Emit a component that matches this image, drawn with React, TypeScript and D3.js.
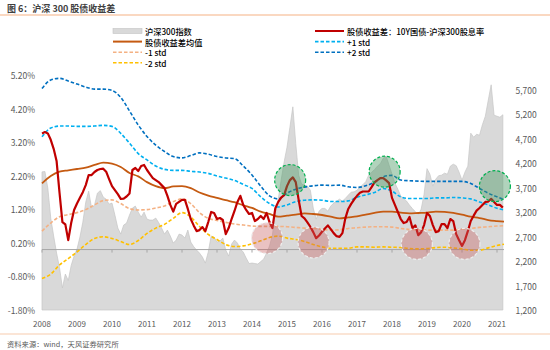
import * as d3 from 'd3';

// monthly, Jan 2008 .. Mar 2021 (positions follow the picture's time axis)
const yieldGap = [
  3.46, 3.50, 3.46, 3.27, 3.00, 2.64, 1.70, 0.82, 0.75, 0.28, 0.79, 1.18,
  1.37, 1.54, 1.71, 1.92, 2.22, 2.22, 2.31, 2.37, 2.40, 2.41, 2.32, 2.10,
  1.89, 1.77, 1.65, 1.51, 1.52, 1.58, 1.67, 2.37, 2.43, 2.34, 2.49, 2.52,
  2.37, 2.25, 2.13, 2.07, 2.01, 1.92, 1.83, 1.60, 1.33, 1.13, 1.36, 1.42,
  1.48, 1.48, 1.21, 0.91, 0.72, 0.55, 0.58, 0.67, 0.55, 0.82, 1.12, 1.09,
  0.91, 0.94, 0.88, 0.46, 0.64, 0.91, 1.15, 1.42, 1.60, 1.33, 1.18, 1.06,
  1.09, 0.85, 0.91, 1.00, 0.91, 1.09, 0.82, 0.64, 1.23, 1.42, 1.55, 1.62,
  1.89, 2.07, 2.15, 2.01, 1.48, 1.00, 0.93, 0.81, 0.68, 0.52, 0.34, 0.42,
  0.53, 0.63, 0.72, 0.61, 0.49, 0.40, 0.38, 0.49, 0.93, 1.21, 1.36, 1.49,
  1.60, 1.69, 1.73, 1.73, 1.73, 1.86, 2.00, 2.07, 2.13, 2.13, 2.06, 1.98,
  1.54, 1.33, 1.12, 0.91, 0.79, 0.82, 0.97, 0.64, 0.72, 0.43, 0.52, 0.73,
  1.09, 1.00, 0.73, 0.52, 0.55, 0.76, 0.76, 0.64, 0.91, 0.85, 0.46, 0.28,
  0.11, 0.28, 0.55, 0.85, 1.01, 1.16, 1.24, 1.33, 1.42, 1.43, 1.51, 1.42,
  1.33, 1.33, 1.25,
];

const csi300 = [
  4021, 4030, 3689, 3077, 2710, 2363, 2067, 1650, 1934, 1802, 2108, 2302,
  2444, 2689, 2995, 3403, 3628, 3281, 3342, 3587, 3638, 3505, 3464, 3362,
  3383, 3138, 2873, 2750, 2934, 2975, 3138, 3281, 3322, 3199, 3097, 3199,
  3056, 3036, 3036, 3077, 2985, 2873, 2750, 2832, 2710, 2567, 2628, 2750,
  2730, 2669, 2832, 2587, 2495, 2424, 2363, 2281, 2159, 2383, 2710, 2689,
  2587, 2608, 2669, 2424, 2302, 2546, 2628, 2567, 2444, 2383, 2261, 2149,
  2159, 2149, 2138, 2189, 2240, 2363, 2506, 2730, 3199, 3464, 3852, 4219,
  4525, 4933, 5350, 4600, 3954, 3770, 3750, 3730, 3648, 3281, 3056, 3220,
  3275, 3275, 3220, 3322, 3383, 3424, 3464, 3424, 3479, 3546, 3607, 3613,
  3648, 3709, 3760, 3821, 3954, 4015, 4066, 4138, 4189, 4301, 4342, 4158,
  3974, 3791, 3668, 3526, 3479, 3424, 3342, 3271, 3209, 3148, 3260, 3566,
  4087, 3974, 3730, 3872, 3944, 3954, 3995, 3974, 4138, 4178, 4148, 4015,
  3852, 4015, 4138, 4811, 4729, 4790, 4770, 4984, 5158, 5484, 5800, 5178,
  5158, 5137, 5188,
];

// quarterly, 2008.00 .. 2021.00 plus the last point
const gapMean = [
  1.97, 2.19, 2.32, 2.36, 2.40, 2.44, 2.52, 2.59, 2.56, 2.46,
  2.28, 2.18, 2.01, 1.89, 1.83, 1.88, 1.89, 1.83, 1.70, 1.61,
  1.54, 1.47, 1.41, 1.32, 1.24, 1.13, 1.06, 0.98, 1.01, 1.04,
  1.08, 1.06, 1.03, 0.98, 0.93, 0.96, 0.99, 1.04, 1.09, 1.13,
  1.13, 1.10, 1.08, 1.09, 1.10, 1.13, 1.12, 1.09, 1.04, 0.98,
  0.94, 0.88, 0.85, 0.83,
];
const plus1Std = [
  3.36, 3.62, 3.68, 3.68, 3.67, 3.67, 3.68, 3.70, 3.67, 3.46,
  3.17, 2.86, 2.67, 2.49, 2.39, 2.36, 2.36, 2.33, 2.31, 2.27,
  2.19, 2.13, 2.06, 1.94, 1.82, 1.57, 1.37, 1.27, 1.33, 1.43,
  1.47, 1.48, 1.47, 1.43, 1.43, 1.45, 1.56, 1.63, 1.70, 1.82,
  1.74, 1.57, 1.52, 1.52, 1.52, 1.54, 1.54, 1.55, 1.54, 1.51,
  1.42, 1.33, 1.23, 1.18,
];
const plus2Std = [
  4.80, 5.05, 5.10, 5.02, 4.93, 4.84, 4.78, 4.78, 4.74, 4.53,
  4.13, 3.71, 3.37, 3.11, 2.92, 2.77, 2.73, 2.80, 2.88, 2.84,
  2.77, 2.73, 2.71, 2.49, 2.22, 1.89, 1.60, 1.51, 1.68, 1.80,
  1.86, 1.90, 1.92, 1.91, 1.92, 1.87, 1.85, 1.90, 2.01, 2.17,
  2.21, 2.07, 2.05, 2.04, 2.03, 2.03, 2.03, 2.03, 2.03, 1.97,
  1.82, 1.68, 1.57, 1.49,
];
const minus1Std = [
  0.55, 0.79, 0.98, 1.04, 1.10, 1.19, 1.33, 1.46, 1.48, 1.37,
  1.22, 1.18, 1.19, 1.24, 1.30, 1.43, 1.51, 1.37, 1.10, 0.93,
  0.87, 0.81, 0.76, 0.73, 0.70, 0.69, 0.69, 0.69, 0.68, 0.66,
  0.64, 0.63, 0.60, 0.58, 0.59, 0.63, 0.65, 0.67, 0.68, 0.68,
  0.67, 0.63, 0.60, 0.59, 0.58, 0.58, 0.58, 0.58, 0.61, 0.63,
  0.66, 0.68, 0.70, 0.71,
];
const minus2Std = [
  -0.86, -0.73, -0.46, -0.27, -0.07, 0.15, 0.33, 0.38, 0.33, 0.24,
  0.15, 0.27, 0.48, 0.64, 0.75, 0.93, 1.10, 0.97, 0.69, 0.45,
  0.30, 0.15, 0.09, 0.11, 0.17, 0.26, 0.36, 0.40, 0.34, 0.30,
  0.24, 0.15, 0.08, 0.04, 0.04, 0.04, 0.08, 0.08, 0.07, 0.08,
  0.07, 0.06, 0.03, 0.02, 0.03, 0.06, 0.07, 0.05, 0.02, -0.02,
  -0.02, 0.05, 0.12, 0.16,
];

// marked zones [year, gap]
const highZones = [[2015.09, 2.07], [2017.79, 2.32], [2020.94, 1.89]];
const lowZones = [[2014.43, 0.34], [2015.76, 0.21], [2018.71, 0.17], [2020.07, 0.17]];

const years = d3.range(2008, 2022);
const leftTicks = [-1.8, -0.8, 0.2, 1.2, 2.2, 3.2, 4.2, 5.2];
const rightTicks = d3.range(1200, 5701, 500);

const FONT = "'Noto Sans CJK SC', 'Noto Sans', sans-serif";

export default function App() {
  const width = 550;
  const height = 350;

  const x = d3.scaleLinear().domain([2008, 2021]).range([42, 497]);
  const yL = d3.scaleLinear().domain([-1.8, 5.2]).range([310, 75]);
  const yR = d3.scaleLinear().domain([1200, 6000]).range([310, 75]);

  const monthT = csi300.map((_, i) => 2008 + i / 12);
  const bandT = [...d3.range(0, 53).map(k => 2008 + k / 4), 2021.2];

  const indexArea = d3.area<number>()
    .x((_, i) => x(monthT[i]))
    .y0(yR(1200))
    .y1(d => yR(d));
  const gapLine = d3.line<number>()
    .x((_, i) => x(monthT[i]))
    .y(d => yL(d));
  const bandLine = d3.line<number>()
    .x((_, i) => x(bandT[i]))
    .y(d => yL(d))
    .curve(d3.curveMonotoneX);

  const dashed = [
    { data: minus2Std, color: '#FFC000' },
    { data: minus1Std, color: '#F4B183' },
    { data: plus1Std, color: '#00B0F0' },
    { data: plus2Std, color: '#0070C0' },
  ];

  const legendLeft = [
    { label: '沪深300指数', kind: 'area', color: '#d9d9d9' },
    { label: '股债收益差均值', kind: 'solid', color: '#C55A11' },
    { label: '-1 std', kind: 'dash', color: '#F4B183' },
    { label: '-2 std', kind: 'dash', color: '#FFC000' },
  ];
  const legendRight = [
    { label: '股债收益差：10Y国债-沪深300股息率', kind: 'solid', color: '#C00000' },
    { label: '+1 std', kind: 'dash', color: '#00B0F0' },
    { label: '+2 std', kind: 'dash', color: '#0070C0' },
  ];

  const legendRow = (item: any, i: number, x0: number) => {
    const cy = 31 + i * 10.6;
    return (
      <g key={item.label}>
        {item.kind === 'area' ? (
          <rect x={x0} y={cy - 2.5} width={29} height={5} fill={item.color} stroke="#c4c4c4" strokeWidth={0.6} />
        ) : (
          <line x1={x0} x2={x0 + 29} y1={cy} y2={cy} stroke={item.color}
            strokeWidth={item.kind === 'solid' ? 2 : 1.6}
            strokeDasharray={item.kind === 'dash' ? '3.5 2' : undefined} />
        )}
        <text x={x0 + 32} y={cy} dominantBaseline="central" fontSize={8.2} fontWeight={500} fill="#000">{item.label}</text>
      </g>
    );
  };

  return (
    <svg width={width} height={height} viewBox={`0 0 ${width} ${height}`}
      style={{ position: 'absolute', left: 0, top: 0, background: '#fff', fontFamily: FONT }}>
      {/* header */}
      <text x={7} y={12} fontSize={9} fontWeight="bold" fill="#404040">图 6：沪深 300 股债收益差</text>
      <line x1={0} x2={width} y1={15} y2={15} stroke="#F8CBAD" strokeWidth={1.5} />

      {/* legend */}
      {legendLeft.map((d, i) => legendRow(d, i, 113))}
      {legendRight.map((d, i) => legendRow(d, i, 315))}

      {/* index area */}
      <path d={indexArea(csi300) ?? ''} fill="#d9d9d9" stroke="#c6c6c6" strokeWidth={0.7} />

      {/* zero axis with year ticks */}
      <line x1={x(2008)} x2={504} y1={yL(0)} y2={yL(0)} stroke="#a6a6a6" strokeWidth={1} />
      {years.map(yr => (
        <line key={yr} x1={x(yr)} x2={x(yr)} y1={yL(0)} y2={yL(0) + 3} stroke="#a6a6a6" strokeWidth={1} />
      ))}

      {/* std bands */}
      {dashed.map(s => (
        <path key={s.color} d={bandLine(s.data) ?? ''} fill="none" stroke={s.color}
          strokeWidth={1.6} strokeDasharray="3.5 2" />
      ))}
      <path d={bandLine(gapMean) ?? ''} fill="none" stroke="#C55A11" strokeWidth={1.8} />

      {/* yield gap */}
      <path d={gapLine(yieldGap) ?? ''} fill="none" stroke="#C00000" strokeWidth={2.2} strokeLinejoin="round" />

      {/* zones */}
      {highZones.map(([t, v]) => (
        <circle key={`h${t}`} cx={x(t)} cy={yL(v)} r={15.5} fill="rgba(70,150,95,0.42)"
          stroke="#00B050" strokeWidth={1.2} strokeDasharray="3 2" />
      ))}
      {lowZones.map(([t, v]) => (
        <circle key={`l${t}`} cx={x(t)} cy={yL(v)} r={15.5} fill="rgba(200,95,95,0.38)"
          stroke="#eeeeee" strokeWidth={1.2} strokeDasharray="3 2" />
      ))}

      {/* left axis */}
      {leftTicks.map(v => (
        <text key={v} x={35} y={yL(v)} textAnchor="end" dominantBaseline="central" fontSize={8.5} fill="#595959">
          {v.toFixed(2)}%
        </text>
      ))}
      {/* right axis */}
      {rightTicks.map(v => (
        <text key={v} x={515.5} y={yR(v)} dominantBaseline="central" fontSize={8.5} fill="#595959">
          {d3.format(',')(v)}
        </text>
      ))}
      {/* x labels */}
      {years.map(yr => (
        <text key={yr} x={x(yr)} y={323} textAnchor="middle" dominantBaseline="central" fontSize={8} fill="#595959">
          {yr}
        </text>
      ))}

      {/* footer */}
      <line x1={0} x2={width} y1={334} y2={334} stroke="#F8CBAD" strokeWidth={1.2} />
      <text x={7} y={344} dominantBaseline="central" fontSize={7.3} fill="#595959">资料来源：wind，天风证券研究所</text>
    </svg>
  );
}
